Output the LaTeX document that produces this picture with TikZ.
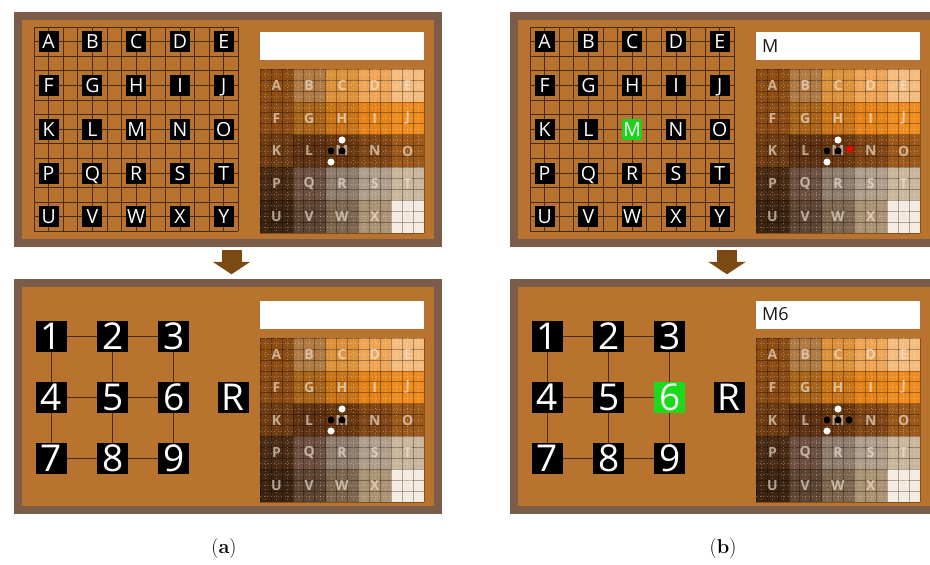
\documentclass[tikz,border=0pt]{standalone}
\usepackage{fontspec}
\newfontfamily\keyfont{Open Sans}
\usetikzlibrary{arrows.meta, positioning, shapes.geometric}

\definecolor{panelfill}{HTML}{B8742F}
\definecolor{panelrim}{HTML}{7A5C48}
\definecolor{gridbrown}{HTML}{4A2A10}
\definecolor{arrowbrown}{HTML}{7A4A12}
\definecolor{keygreen}{HTML}{22D022}
\definecolor{heattext}{HTML}{F0E4D8}
\definecolor{heatA}{HTML}{8C4C12}
\definecolor{heatB}{HTML}{B07A45}
\definecolor{heatC}{HTML}{DC923A}
\definecolor{heatD}{HTML}{EEA656}
\definecolor{heatE}{HTML}{F4BC7E}
\definecolor{heatF}{HTML}{8A4A14}
\definecolor{heatG}{HTML}{A86418}
\definecolor{heatH}{HTML}{C87418}
\definecolor{heatI}{HTML}{E48418}
\definecolor{heatJ}{HTML}{EE8C20}
\definecolor{heatK}{HTML}{6E3C12}
\definecolor{heatL}{HTML}{5E3212}
\definecolor{heatM}{HTML}{6A3810}
\definecolor{heatN}{HTML}{804616}
\definecolor{heatO}{HTML}{9C5818}
\definecolor{heatP}{HTML}{4A2C14}
\definecolor{heatQ}{HTML}{6E5040}
\definecolor{heatR}{HTML}{8E7C6C}
\definecolor{heatS}{HTML}{B09E8A}
\definecolor{heatT}{HTML}{CAB69C}
\definecolor{heatU}{HTML}{3C2410}
\definecolor{heatV}{HTML}{5E4432}
\definecolor{heatW}{HTML}{7E664E}
\definecolor{heatX}{HTML}{AA9272}
\definecolor{heatY}{HTML}{F4ECE0}

% 5x5 letter board on a 14x14 grid
\newcommand{\lettergrid}[4]{%
  \foreach \i in {0,...,14} {
    \draw[gridline] (#1+\i*14.6,#2) -- (#1+\i*14.6,#2+204.4);
    \draw[gridline] (#1,#2+\i*14.6) -- (#1+204.4,#2+\i*14.6);
  }
  \foreach \l [count=\n from 0] in {A,...,Y} {
    \pgfmathtruncatemacro{\col}{mod(\n,5)}
    \pgfmathtruncatemacro{\row}{\n/5}
    \ifnum\n=#4 \def\boxstyle{pickbox}\else\def\boxstyle{letterbox}\fi
    \node[\boxstyle] (#3\l) at (#1+14.6+43.8*\col,#2+14.6+43.8*\row) {\l};
  }
}

% heat map of the letters
\newcommand{\heatmap}[3]{%
  \foreach \l [count=\n from 0] in {A,...,Y} {
    \pgfmathtruncatemacro{\col}{mod(\n,5)}
    \pgfmathtruncatemacro{\row}{\n/5}
    \fill[heat\l] (#1+32.8*\col,#2+32.8*\row) rectangle ++(32.8,32.8);
  }
  \foreach \i in {0,...,15} {
    \draw[heatline] (#1+\i*10.933,#2) -- (#1+\i*10.933,#2+164);
    \draw[heatline] (#1,#2+\i*10.933) -- (#1+164,#2+\i*10.933);
  }
  \foreach \i in {0,...,14} {
    \draw[heatdots] (#1+\i*10.933+5.47,#2) -- ++(0,164);
    \draw[heatdots] (#1,#2+\i*10.933+5.47) -- ++(164,0);
  }
  \foreach \l [count=\n from 0] in {A,...,Y} {
    \pgfmathtruncatemacro{\col}{mod(\n,5)}
    \pgfmathtruncatemacro{\row}{\n/5}
    \node[heatletter] (#3\l) at (#1+16.4+32.8*\col,#2+16.4+32.8*\row) {\l};
  }
}

% stones round the M cell
\newcommand{\stones}[1]{%
  \node[whitedot] (#1w1) at ([yshift=11pt]#1M.center) {};
  \node[blackdot] (#1b1) at ([xshift=-11pt]#1M.center) {};
  \node[blackdot] (#1b2) at (#1M.center) {};
  \node[whitedot] (#1w2) at ([shift={(-11pt,-11pt)}]#1M.center) {};
}

% 3x3 key pad and the R key
\newcommand{\keypad}[4]{%
  \foreach \d [count=\n from 0] in {1,...,9} {
    \pgfmathtruncatemacro{\col}{mod(\n,3)}
    \pgfmathtruncatemacro{\row}{\n/3}
    \ifnum\n=#4 \def\boxstyle{pickkey}\else\def\boxstyle{keybox}\fi
    \node[\boxstyle] (#3\d) at (#1+61.3*\col,#2+61.3*\row) {\d};
  }
  \node[keybox] (#3R) at (#1+182,#2+61.3) {R};
  \draw[keyline] (#31) -- (#32) (#32) -- (#33)
                 (#34) -- (#35) (#35) -- (#36)
                 (#37) -- (#38) (#38) -- (#39)
                 (#31) -- (#34) (#34) -- (#37)
                 (#32) -- (#35) (#35) -- (#38)
                 (#33) -- (#36) (#36) -- (#39);
}

\begin{document}
\begin{tikzpicture}[x=1pt, y=-1pt,
    panel/.style={draw=panelrim, fill=panelfill, line width=8pt,
                  minimum width=420pt, minimum height=227pt, inner sep=0pt},
    gridline/.style={gridbrown, line width=0.7pt},
    heatline/.style={black, opacity=0.3, line width=0.6pt},
    heatdots/.style={white, opacity=0.3, line width=0.5pt, dash pattern=on 1pt off 2.5pt},
    letterbox/.style={fill=black, text=white, minimum width=20pt, minimum height=21pt,
                      inner sep=0pt, text height=14pt, text depth=0pt,
                      font=\keyfont\fontsize{19.5}{19.5}\selectfont},
    pickbox/.style={letterbox, fill=keygreen, text=white!85!gray},
    heatletter/.style={text=heattext, text opacity=0.65, inner sep=0pt,
                       font=\keyfont\bfseries\fontsize{14}{14}\selectfont},
    textbox/.style={fill=white, minimum height=28pt, text width=152pt,
                    inner xsep=6pt, inner ysep=0pt, align=left, text=black!90,
                    font=\keyfont\fontsize{18}{18}\selectfont},
    keybox/.style={fill=black, text=white, minimum size=31pt, inner sep=0pt,
                   text height=26pt, text depth=0pt,
                   font=\keyfont\fontsize{37}{37}\selectfont},
    pickkey/.style={keybox, fill=keygreen!80!green, text=white!90!gray},
    keyline/.style={gridbrown, line width=0.9pt},
    whitedot/.style={circle, fill=white, minimum size=7pt, inner sep=0pt},
    blackdot/.style={circle, fill=black, minimum size=7pt, inner sep=0pt},
    redstar/.style={star, star points=5, star point ratio=2.3, fill=red,
                    minimum size=10pt, inner sep=0pt},
    downarrow/.style={arrowbrown, line width=20pt,
                      -{Triangle[width=37pt, length=12.5pt]},
                      shorten <=3pt, shorten >=4.2pt},
    sublabel/.style={font=\fontsize{20}{24}\selectfont},
]
\useasboundingbox (0,0) rectangle (930,565);
\clip (0,0) rectangle (930,565);

% panels
\node[panel] (pa1) at (228,129) {};
\node[panel] (pa2) at (228,396) {};
\node[panel] (pb1) at (724,129) {};
\node[panel] (pb2) at (724,396) {};
\draw[downarrow] ([xshift=3.5pt]pa1.south) -- ([xshift=3.5pt]pa2.north);
\draw[downarrow] ([xshift=3pt]pb1.south) -- ([xshift=3pt]pb2.north);

% (a) top
\lettergrid{34}{27}{la}{-1}
\node[textbox] (ina1) at (342,46) {};
\heatmap{260}{69}{ha}
\stones{ha}

% (a) bottom
\keypad{51.3}{336}{ka}{-1}
\node[textbox] (ina2) at (342,314.5) {};
\heatmap{260}{338}{hc}
\stones{hc}

% (b) top
\lettergrid{530}{27}{lb}{12}
\node[textbox] (inb1) at (838,46) {M};
\heatmap{756}{69}{hb}
\stones{hb}
\node[redstar] (hbstar) at ([shift={(12pt,2pt)}]hbM.center) {};

% (b) bottom
\keypad{547.3}{336}{kb}{5}
\node[textbox] (inb2) at (838,314.5) {M6};
\heatmap{756}{338}{hd}
\stones{hd}
\node[blackdot] (hdb3) at ([xshift=11pt]hdM.center) {};

\node[sublabel] (capa) at (224,549) {(\textbf{a})};
\node[sublabel] (capb) at (723,549) {(\textbf{b})};
\end{tikzpicture}
\end{document}
